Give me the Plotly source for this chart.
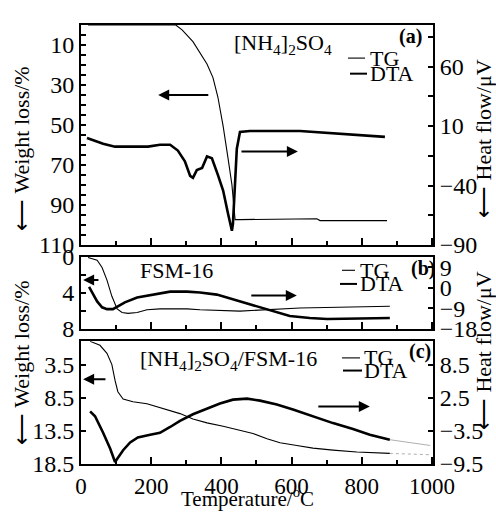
import plotly.graph_objects as go

# ---------------- data ----------------
# (a) [NH4]2SO4
a_tg_t = [20, 270, 288, 319, 359, 376, 390, 405, 419, 430, 439, 453, 672, 681, 872]
a_tg_w = [0, 0, 2.4, 8.3, 19.5, 26.3, 36, 50.6, 66.7, 79.8, 97.3, 97.3, 96.9, 97.8, 97.8]
a_dta_t = [17, 63, 97, 191, 225, 254, 276, 296, 311, 319, 330, 345, 359, 373, 390,
           405, 419, 430, 433, 439, 444, 453, 481, 624, 866]
a_dta_h = [0, -4.9, -7.3, -7.3, -5.7, -5.7, -10.6, -19.6, -31.9, -33.5, -27, -25.3, -15.5,
           -17.1, -31, -44.2, -63.8, -78, -72, -39.2, -9, 5, 5.8, 5.8, 0.9]

# (b) FSM-16
b_tg_t = [20, 46, 60, 74, 88, 103, 117, 134, 160, 188, 225, 302, 339, 453, 624, 880]
b_tg_w = [0.1, 0.4, 1.2, 2.6, 4.4, 5.8, 6.2, 6.3, 6.2, 5.9, 5.8, 5.8, 5.9, 6.05, 5.7, 5.5]
b_dta_t = [23, 31, 46, 60, 74, 91, 105, 125, 160, 205, 254, 302, 339, 387, 433, 481,
           530, 595, 652, 701, 795, 880]
b_dta_h = [0.4, -1.7, -6, -8.6, -9.4, -9.4, -8.1, -6.4, -4.3, -3, -1.7, -1.7, -2.1, -3,
           -5.1, -7.1, -9.4, -12.4, -13.3, -13.7, -13.5, -13.3]

# (c) [NH4]2SO4/FSM-16
c_tg_t = [26, 54, 74, 88, 97, 105, 120, 148, 188, 234, 282, 319, 359, 405, 453, 490,
          530, 567, 615, 661, 718, 786, 880]
c_tg_w = [0, 0.6, 1.8, 3.5, 5.9, 7.6, 8.7, 9.1, 9.4, 10.1, 10.9, 11.7, 12.3, 12.8, 13.4,
          13.9, 14.7, 15.3, 15.7, 16.1, 16.4, 16.7, 16.9]
c_tg_tail_t = [880, 995]
c_tg_tail_w = [16.9, 17.1]
c_dta_t = [26, 40, 63, 83, 97, 105, 120, 140, 162, 197, 225, 254, 282, 319, 359, 396,
           433, 473, 510, 558, 604, 661, 718, 775, 823, 880]
c_dta_h = [0.03, -0.85, -3.85, -6.7, -9.15, -8.4, -7.0, -5.6, -4.7, -4.2, -3.85, -2.8,
           -1.7, -0.5, 0.56, 1.44, 2.15, 2.33, 1.97, 1.27, 0.38, -0.85, -2.1, -3.15, -4.2,
           -5.1]
c_dta_tail_t = [880, 995]
c_dta_tail_h = [-5.1, -6.15]

x_ticks = [0, 200, 400, 600, 800, 1000]
a_left_ticks = [10, 30, 50, 70, 90, 110]
a_right_ticks = [60, 10, -40, -90]
b_left_ticks = [0, 4, 8]
b_right_ticks = [9, 0, -9, -18]
c_left_ticks = [3.5, 8.5, 13.5, 18.5]
c_right_ticks = [8.5, 2.5, -3.5, -9.5]

# ---------------- layout helpers ----------------
W, H = 496, 512
ML, MR, MT, MB = 81, 63, 13, 48
PW, PH = W - ML - MR, H - MT - MB


def px(xp):
    return (xp - ML) / PW


def py(yp):
    return (H - MB - yp) / PH


FONT = "Liberation Serif"
FS = 22
TICK_FS = 24
THIN = 1.1
THICK = 2.6

fig = go.Figure()

# traces
fig.add_trace(go.Scatter(x=a_tg_t, y=a_tg_w, xaxis="x", yaxis="y", mode="lines",
                         line=dict(color="black", width=THIN), name="TG"))
fig.add_trace(go.Scatter(x=a_dta_t, y=a_dta_h, xaxis="x", yaxis="y2", mode="lines",
                         line=dict(color="black", width=THICK), name="DTA"))
fig.add_trace(go.Scatter(x=b_tg_t, y=b_tg_w, xaxis="x2", yaxis="y3", mode="lines",
                         line=dict(color="black", width=THIN), name="TG"))
fig.add_trace(go.Scatter(x=b_dta_t, y=b_dta_h, xaxis="x2", yaxis="y4", mode="lines",
                         line=dict(color="black", width=THICK), name="DTA"))
fig.add_trace(go.Scatter(x=c_tg_t, y=c_tg_w, xaxis="x3", yaxis="y5", mode="lines",
                         line=dict(color="black", width=THIN), name="TG"))
fig.add_trace(go.Scatter(x=c_tg_tail_t, y=c_tg_tail_w, xaxis="x3", yaxis="y5", mode="lines",
                         line=dict(color="#9a9a9a", width=0.8, dash="dot"), name="TG"))
fig.add_trace(go.Scatter(x=c_dta_t, y=c_dta_h, xaxis="x3", yaxis="y6", mode="lines",
                         line=dict(color="black", width=THICK), name="DTA"))
fig.add_trace(go.Scatter(x=c_dta_tail_t, y=c_dta_tail_h, xaxis="x3", yaxis="y6", mode="lines",
                         line=dict(color="#9a9a9a", width=0.8), name="DTA"))

tickfont = dict(family=FONT, size=TICK_FS, color="black")
xcommon = dict(range=[0, 1003], showline=True, linewidth=2, linecolor="black", mirror=True,
               ticks="inside", ticklen=7, tickwidth=1.5, tickcolor="black",
               tickvals=x_ticks, showgrid=False, zeroline=False,
               minor=dict(dtick=100, tick0=0, ticks="inside", ticklen=4, tickwidth=1.5,
                          tickcolor="black"))
ycommon = dict(showline=True, linewidth=2, linecolor="black", ticks="inside", ticklen=5,
               tickwidth=1.5, tickcolor="black", showgrid=False, zeroline=False,
               tickfont=tickfont)

dom_a = [py(239), 1.0]
dom_b = [py(325), py(251)]
dom_c = [0.0, py(338)]

fig.update_layout(
    width=W, height=H, margin=dict(l=ML, r=MR, t=MT, b=MB),
    paper_bgcolor="white", plot_bgcolor="white", showlegend=False,
    font=dict(family=FONT, size=FS, color="black"),
    xaxis=dict(**xcommon, domain=[0, 1], anchor="y", showticklabels=False),
    xaxis2=dict(**xcommon, domain=[0, 1], anchor="y3", showticklabels=False),
    xaxis3=dict(**xcommon, domain=[0, 1], anchor="y5", showticklabels=True,
                tickfont=dict(family=FONT, size=23, color="black")),
    yaxis=dict(**ycommon, domain=dom_a, anchor="x", range=[110, 0], tickvals=a_left_ticks,
               minor=dict(tickvals=list(range(0, 111, 5)), ticks="inside", ticklen=5,
                          tickwidth=1.5, tickcolor="black")),
    yaxis2=dict(**ycommon, domain=dom_a, anchor="x", overlaying="y", side="right",
                range=[-90, 95], tickvals=a_right_ticks,
                minor=dict(tickvals=[85, 35, -15, -65], ticks="inside", ticklen=5,
                           tickwidth=1.5, tickcolor="black")),
    yaxis3=dict(**ycommon, domain=dom_b, anchor="x2", range=[8, 0], tickvals=b_left_ticks,
                minor=dict(tickvals=[2, 6], ticks="inside", ticklen=5, tickwidth=1.5,
                           tickcolor="black")),
    yaxis4=dict(**ycommon, domain=dom_b, anchor="x2", overlaying="y3", side="right",
                range=[-18, 13.7], tickvals=b_right_ticks),
    yaxis5=dict(**ycommon, domain=dom_c, anchor="x3", range=[18.5, 0], tickvals=c_left_ticks),
    yaxis6=dict(**ycommon, domain=dom_c, anchor="x3", overlaying="y5", side="right",
                range=[-9.5, 12.7], tickvals=c_right_ticks),
)

ann = []
shapes = []

# direction arrows (head, tail, level, axes)
arrows = [
    (220, 367, 35, "x", "y"),
    (618, 453, -11.4, "x", "y2"),
    (6, 54, 2.6, "x2", "y3"),
    (615, 481, -3.4, "x2", "y4"),
    (6, 74, 5.7, "x3", "y5"),
    (823, 672, 0.9, "x3", "y6"),
]
for head, tail, lvl, xr, yr in arrows:
    ann.append(dict(x=head, y=lvl, ax=tail, ay=lvl, xref=xr, yref=yr, axref=xr, ayref=yr,
                    text="", showarrow=True, arrowhead=2, arrowsize=1.1, arrowwidth=2,
                    arrowcolor="black"))


def label(xp, yp, text, size=FS, xanchor="center", angle=0):
    ann.append(dict(x=px(xp), y=py(yp), xref="paper", yref="paper", showarrow=False,
                    xanchor=xanchor, yanchor="middle", textangle=angle, text=text,
                    font=dict(family=FONT, size=size, color="black")))


# sample names
label(283, 33, "[NH<sub>4</sub>]<sub>2</sub>SO<sub>4</sub>")
label(176, 265, "FSM-16")
label(228, 357, "[NH<sub>4</sub>]<sub>2</sub>SO<sub>4</sub>/FSM-16")

# panel letters
for lab, xp, yp in [("(a)", 410, 25), ("(b)", 423, 263), ("(c)", 420, 348)]:
    label(xp, yp, "<b>%s</b>" % lab, size=20)

# legend keys
legend_rows = [
    (348, 365, 47, 368, 63, 350, 367),
    (342, 355, 265, 358, 279, 340, 357),
    (342, 360, 355, 362, 368, 343, 362),
]
for tg_x0, tg_x1, tg_y, txt_x, dta_y, dta_x0, dta_x1 in legend_rows:
    shapes.append(dict(type="line", xref="paper", yref="paper", x0=px(tg_x0), x1=px(tg_x1),
                       y0=py(tg_y), y1=py(tg_y), line=dict(color="black", width=THIN)))
    shapes.append(dict(type="line", xref="paper", yref="paper", x0=px(dta_x0), x1=px(dta_x1),
                       y0=py(dta_y), y1=py(dta_y), line=dict(color="black", width=2)))
    label(txt_x, tg_y, "TG", xanchor="left")
    label(txt_x, dta_y, "DTA", xanchor="left")

# axis titles
label(247, 498, "Temperature/<sup>o</sup>C", size=21)
for xp, yp, txt in [(22, 140, "\u27f5 Weight loss/%"), (22, 360, "\u27f5 Weight loss/%"),
                    (484, 129, "\u27f5 Heat flow/\u03bcV"), (483, 348, "\u27f5 Heat flow/\u03bcV")]:
    label(xp, yp, txt, angle=-90)

fig.update_layout(annotations=ann, shapes=shapes)
fig.write_html("out.html")
